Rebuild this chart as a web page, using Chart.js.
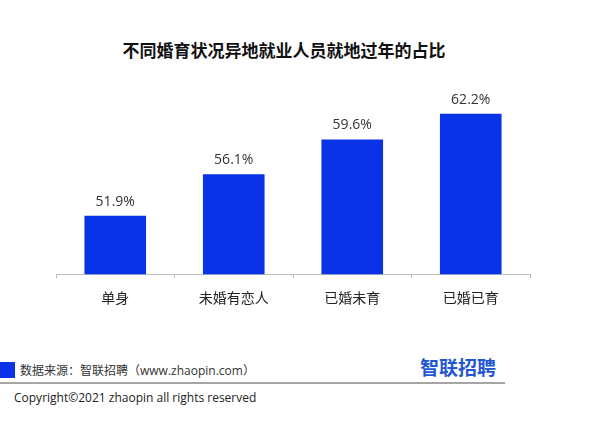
<!DOCTYPE html>
<html>
<head>
<meta charset="utf-8">
<script src="https://cdn.jsdelivr.net/npm/chart.js@4"></script>
<style>
  body { margin: 0; background: #fff; width: 606px; height: 422px; overflow: hidden; position: relative;
         font-family: "Open Sans", "Noto Sans CJK SC", sans-serif; }
  #wrap { position: absolute; left: 0; top: 0; width: 606px; height: 330px; }
  #title { position: absolute; left: 0; width: 568px; top: 37px; text-align: center;
           font: bold 17px "Noto Sans CJK SC", sans-serif; color: #111; }
  #src-box { position: absolute; left: 0; top: 362px; width: 15px; height: 16px; background: #0a32e6; }
  #src { position: absolute; left: 20px; top: 362px; font-size: 12px; color: #333; line-height: 18px; }
  #rule { position: absolute; left: 0; top: 382px; width: 505px; height: 2px; background: #a6a6a6; }
  #logo { position: absolute; left: 420px; top: 353px; font: bold 19px "Noto Sans CJK SC", sans-serif;
          color: #2356d2; }
  #copy { position: absolute; left: 14px; top: 388px; font-size: 12px; color: #222; line-height: 20px; }
</style>
</head>
<body>
<div id="title">不同婚育状况异地就业人员就地过年的占比</div>
<div id="wrap"><canvas id="chart"></canvas></div>
<div id="src-box"></div>
<div id="src">数据来源：智联招聘（www.zhaopin.com）</div>
<div id="logo">智联招聘</div>
<div id="rule"></div>
<div id="copy">Copyright©2021 zhaopin all rights reserved</div>
<script>
const categories = ["单身", "未婚有恋人", "已婚未育", "已婚已育"];
const shares = [51.9, 56.1, 59.6, 62.2];

const barLabels = {
    id: "barLabels",
    afterDatasetsDraw(chart) {
        const ctx = chart.ctx;
        const meta = chart.getDatasetMeta(0);
        ctx.save();
        ctx.font = "14px 'Open Sans', 'Noto Sans CJK SC', sans-serif";
        ctx.fillStyle = "#333";
        ctx.textAlign = "center";
        ctx.textBaseline = "bottom";
        meta.data.forEach((bar, i) => {
            ctx.fillText(shares[i].toFixed(1) + "%", bar.x, bar.y - 7);
        });
        ctx.restore();
    }
};

new Chart(document.getElementById("chart"), {
    type: "bar",
    data: {
        labels: categories,
        datasets: [{
            data: shares,
            backgroundColor: "#0a32e6",
            categoryPercentage: 1,
            barPercentage: 0.52
        }]
    },
    options: {
        responsive: true,
        maintainAspectRatio: false,
        animation: false,
        layout: { padding: { left: 56, right: 76, top: 86, bottom: 13 } },
        plugins: {
            legend: { display: false },
            tooltip: { enabled: false }
        },
        scales: {
            x: {
                grid: {
                    drawOnChartArea: false,
                    tickLength: 4,
                    color: "#bfbfbf"
                },
                border: { color: "#bfbfbf" },
                ticks: {
                    color: "#222",
                    padding: 11,
                    font: { size: 14, family: "'Noto Sans CJK SC', sans-serif" }
                }
            },
            y: {
                display: false,
                min: 46,
                max: 65
            }
        }
    },
    plugins: [barLabels]
});
</script>
</body>
</html>
